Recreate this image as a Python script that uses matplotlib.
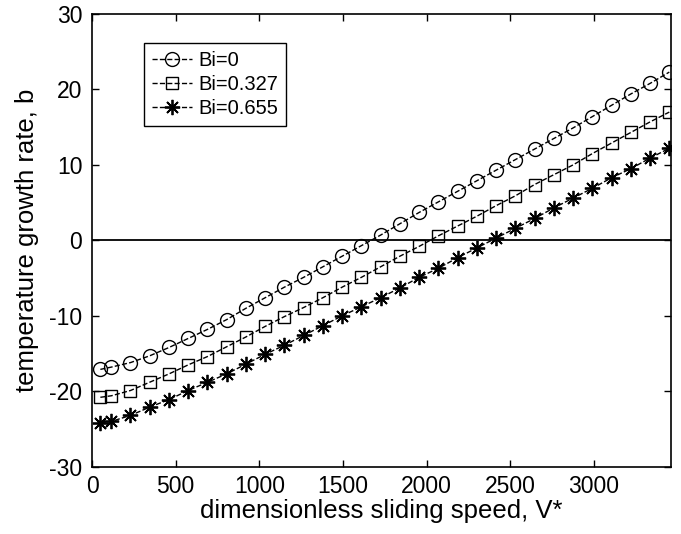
import matplotlib
matplotlib.use("Agg")
import matplotlib.pyplot as plt

plt.rcParams['font.family'] = ['Liberation Sans', 'DejaVu Sans']
plt.rcParams['axes.unicode_minus'] = False

# dimensionless sliding speed V*
speed = [50] + [115 * k for k in range(1, 31)]

b_bi0 = [-17.1, -16.8, -16.2, -15.3, -14.2, -13.0, -11.8, -10.5, -9.0, -7.6,
         -6.2, -4.9, -3.5, -2.1, -0.7, 0.7, 2.2, 3.7, 5.1, 6.5,
         7.9, 9.3, 10.7, 12.1, 13.5, 14.9, 16.4, 17.9, 19.4, 20.8, 22.3]
b_bi0327 = [-20.8, -20.6, -19.9, -18.8, -17.7, -16.5, -15.4, -14.1, -12.8, -11.4,
            -10.1, -8.9, -7.6, -6.2, -4.9, -3.5, -2.1, -0.8, 0.6, 1.9,
            3.2, 4.6, 5.9, 7.4, 8.7, 10.0, 11.5, 12.9, 14.3, 15.7, 17.0]
b_bi0655 = [-24.2, -24.0, -23.2, -22.1, -21.1, -19.9, -18.8, -17.7, -16.4, -15.1,
            -13.9, -12.6, -11.3, -10.0, -8.8, -7.6, -6.3, -4.9, -3.7, -2.3,
            -1.0, 0.3, 1.6, 2.9, 4.3, 5.6, 6.9, 8.3, 9.5, 10.9, 12.2]

labels = ['Bi=0', 'Bi=0.327', 'Bi=0.655']

fig = plt.figure(figsize=(6.81, 5.34), dpi=100)
ax = fig.add_axes([0.1351, 0.126, 0.8502, 0.8478])

ax.plot(speed, b_bi0, '--', color='black', lw=1.0, marker='o', ms=10,
        mfc='none', mec='black', mew=1.0, label=labels[0])
ax.plot(speed, b_bi0327, '--', color='black', lw=1.0, marker='s', ms=8.5,
        mfc='none', mec='black', mew=1.0, label=labels[1])
ax.plot(speed, b_bi0655, '--', color='black', lw=1.0, marker=(8, 2, 0), ms=11,
        mec='black', mew=1.3, label=labels[2])
ax.axhline(0, color='black', lw=1.3)

ax.set_xlim(0, 3460)
ax.set_ylim(-30, 30)
ax.set_xticks(range(0, 3001, 500))
ax.set_yticks(range(-30, 31, 10))
ax.tick_params(axis='both', direction='in', top=True, right=True, length=5,
               width=1, labelsize=16.5)
ax.tick_params(axis='x', pad=6)
ax.tick_params(axis='y', pad=7)
for s in ax.spines.values():
    s.set_linewidth(1.2)

ax.set_xlabel('dimensionless sliding speed, V*', fontsize=18.5, labelpad=1)
ax.set_ylabel('temperature growth rate, b', fontsize=18.5, labelpad=7)

leg = ax.legend(loc='upper left', bbox_to_anchor=(0.09, 0.937), fontsize=14.5,
                handlelength=2.0, handletextpad=0.3, borderpad=0.4,
                labelspacing=0.25, fancybox=False, framealpha=1,
                edgecolor='black', borderaxespad=0)
leg.get_frame().set_linewidth(1.0)

fig.savefig('out.png', dpi=100)
